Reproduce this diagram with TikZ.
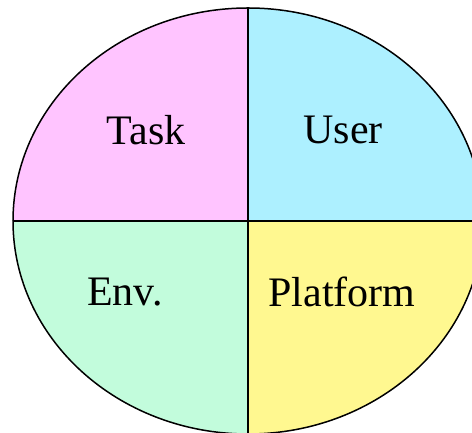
\documentclass[tikz,border=0pt]{standalone}
\usepackage{fontspec}
\setmainfont{Liberation Serif}
\definecolor{qpink}{HTML}{FFC4FF}
\definecolor{qcyan}{HTML}{ADF0FF}
\definecolor{qmint}{HTML}{C2FCDC}
\definecolor{qyellow}{HTML}{FFF890}
\tikzset{lbl/.style={font=\fontsize{42}{46}\selectfont, inner sep=0pt}}
\begin{document}
\begin{tikzpicture}[x=1pt,y=1pt]
\useasboundingbox (0,0) rectangle (472,433);
\clip (0,0) rectangle (472,433);
\coordinate (c) at (248,212);
\begin{scope}
\clip (c) ellipse [x radius=235, y radius=213];
\fill[qpink] (c) rectangle ++(-240,220);
\fill[qcyan] (c) rectangle ++(240,220);
\fill[qmint] (c) rectangle ++(-240,-220);
\fill[qyellow] (c) rectangle ++(240,-220);
\draw[line width=1.3pt] (c) ++(-240,0) -- ++(480,0);
\draw[line width=1.3pt] (c) ++(0,-220) -- ++(0,440);
\end{scope}
\draw[line width=1.5pt] (c) ellipse [x radius=235, y radius=213];
\node[lbl] (task) at (146,303) {Task};
\node[lbl] (user) at (343,303) {User};
\node[lbl] (env) at (125,141) {Env.};
\node[lbl] (plat) at (342,141) {Platform};
\end{tikzpicture}
\end{document}
